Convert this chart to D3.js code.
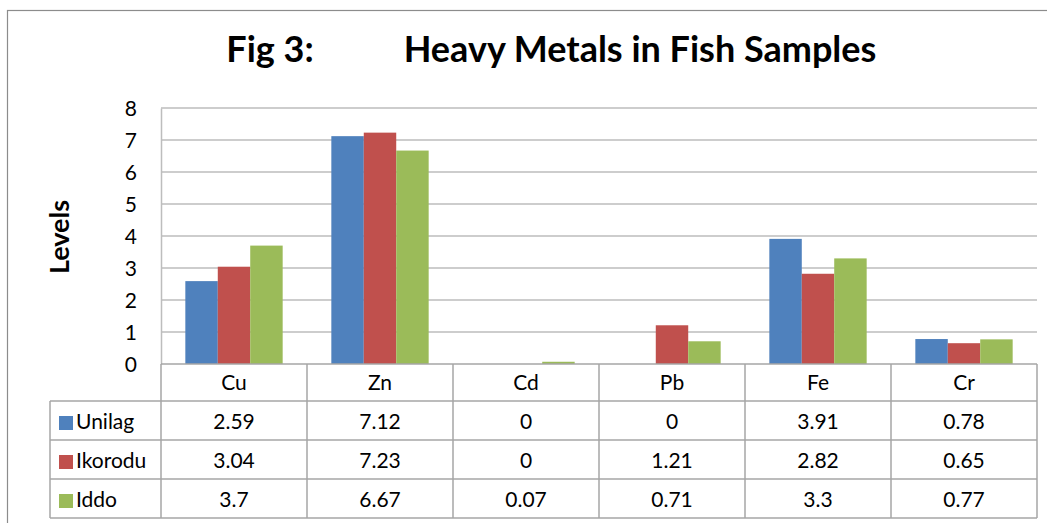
<!DOCTYPE html>
<html>
<head>
<meta charset="utf-8">
<script src="https://cdn.jsdelivr.net/npm/d3@7"></script>
<style>
  html, body { margin: 0; padding: 0; background: #fff; }
  svg { display: block; }
  text { font-family: Lato, "Open Sans", sans-serif; fill: #000; }
</style>
</head>
<body>
<svg id="chart" width="1047" height="523"></svg>
<script>
const categories = ["Cu", "Zn", "Cd", "Pb", "Fe", "Cr"];
const seriesNames = ["Unilag", "Ikorodu", "Iddo"];
const unilag  = [2.59, 7.12, 0, 0, 3.91, 0.78];
const ikorodu = [3.04, 7.23, 0, 1.21, 2.82, 0.65];
const iddo    = [3.7, 6.67, 0.07, 0.71, 3.3, 0.77];
const tableLabels = [["2.59","7.12","0","0","3.91","0.78"],
                     ["3.04","7.23","0","1.21","2.82","0.65"],
                     ["3.7","6.67","0.07","0.71","3.3","0.77"]];
const yTicks = [0, 1, 2, 3, 4, 5, 6, 7, 8];
const colors = ["#4F81BD", "#C0504D", "#9BBB59"];
const titleLeft = "Fig 3:";
const titleRight = "Heavy Metals in Fish Samples";
const yLabel = "Levels";

const seriesValues = [unilag, ikorodu, iddo];

const svg = d3.select("#chart");
const W = 1047, H = 523;

// outer frame
svg.append("rect").attr("x", 7.5).attr("y", 10.5).attr("width", W + 10).attr("height", H + 10)
  .attr("fill", "#fff").attr("stroke", "#8c8c8c").attr("stroke-width", 1.2);

const plotL = 161, plotR = 1037, plotT = 108, plotB = 364;
const tableL = 50;
const catRowB = 401;
const rowH = 39;

const x = d3.scaleBand().domain(categories).range([plotL, plotR]).padding(0);
const xs = d3.scaleBand().domain(seriesNames).range([0, x.bandwidth()]).paddingOuter(0.75).paddingInner(0);
const y = d3.scaleLinear().domain([0, 8]).range([plotB, plotT]);

const gridColor = "#bdbdbd";
const tableColor = "#a6a6a6";
const fontSize = "21px";

// gridlines
svg.append("g").selectAll("line").data(yTicks.filter(d => d > 0)).join("line")
  .attr("x1", plotL).attr("x2", plotR)
  .attr("y1", d => y(d)).attr("y2", d => y(d))
  .attr("stroke", gridColor).attr("stroke-width", 1.5);

// y axis
const yAxis = d3.axisLeft(y).tickValues(yTicks).tickSize(0).tickPadding(24);
const ya = svg.append("g").attr("transform", `translate(${plotL},0)`).call(yAxis);
ya.select(".domain").attr("stroke", gridColor).attr("stroke-width", 1.5);
ya.selectAll("text").style("font-size", fontSize).style("font-family", "Lato, 'Open Sans', sans-serif").attr("fill", "#000").attr("dy", "0.36em");

// bars
const groups = svg.append("g").selectAll("g").data(categories).join("g")
  .attr("transform", d => `translate(${x(d)},0)`);
groups.selectAll("rect").data((c, ci) => seriesNames.map((s, si) => ({ s, si, v: seriesValues[si][ci] })))
  .join("rect")
  .attr("x", d => xs(d.s))
  .attr("width", xs.bandwidth())
  .attr("y", d => y(d.v))
  .attr("height", d => y(0) - y(d.v))
  .attr("fill", d => colors[d.si]);

// table
const tg = svg.append("g");
const tableB = catRowB + rowH * 3;
tg.append("line").attr("x1", plotL).attr("x2", plotR).attr("y1", plotB).attr("y2", plotB)
  .attr("stroke", tableColor).attr("stroke-width", 1.5);
[0, 1, 2, 3].forEach(i => {
  tg.append("line").attr("x1", tableL).attr("x2", plotR)
    .attr("y1", catRowB + i * rowH).attr("y2", catRowB + i * rowH)
    .attr("stroke", tableColor).attr("stroke-width", 1.5);
});
tg.append("line").attr("x1", tableL).attr("x2", tableL).attr("y1", catRowB).attr("y2", tableB)
  .attr("stroke", tableColor).attr("stroke-width", 1.5);
const vx = categories.map(c => x(c)).concat([plotR]);
tg.selectAll("line.v").data(vx).join("line").attr("class", "v")
  .attr("x1", d => d).attr("x2", d => d).attr("y1", plotB).attr("y2", tableB)
  .attr("stroke", tableColor).attr("stroke-width", 1.5);

// category labels
tg.selectAll("text.cat").data(categories).join("text").attr("class", "cat")
  .attr("x", d => x(d) + x.bandwidth() / 2).attr("y", (plotB + catRowB) / 2)
  .attr("dy", "0.36em").attr("text-anchor", "middle").style("font-size", fontSize).text(d => d);

// rows
seriesNames.forEach((s, si) => {
  const cy = catRowB + si * rowH + rowH / 2;
  tg.append("rect").attr("x", 59).attr("y", cy - 4.5).attr("width", 14).attr("height", 14).attr("fill", colors[si]);
  tg.append("text").attr("x", 76).attr("y", cy + 1.5).attr("dy", "0.35em").style("font-size", fontSize).text(s);
  tg.selectAll(null).data(categories).join("text")
    .attr("x", (d) => x(d) + x.bandwidth() / 2).attr("y", cy + 1.5).attr("dy", "0.35em")
    .attr("text-anchor", "middle").style("font-size", fontSize)
    .text((d, ci) => tableLabels[si][ci]);
});

// title
svg.append("text").attr("x", 270).attr("y", 62).attr("text-anchor", "middle")
  .style("font-size", "36px").style("font-weight", "bold").text(titleLeft);
svg.append("text").attr("x", 640).attr("y", 62).attr("text-anchor", "middle")
  .style("font-size", "36px").style("font-weight", "bold").text(titleRight);

// y label
svg.append("text").attr("transform", "translate(60,237) rotate(-90)")
  .attr("text-anchor", "middle").attr("dy", "0.35em")
  .style("font-size", "27px").style("font-weight", "bold").text(yLabel);
</script>
</body>
</html>
